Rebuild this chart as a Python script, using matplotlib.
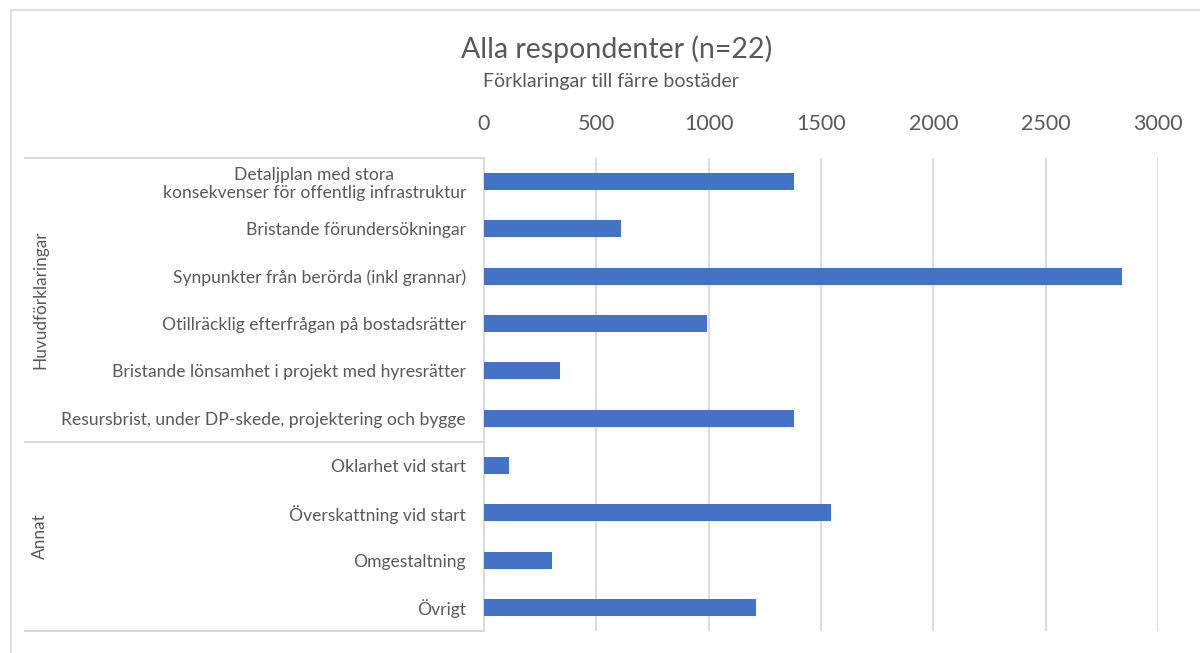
import matplotlib
matplotlib.use("Agg")
import numpy as np
import matplotlib.pyplot as plt
from matplotlib.patches import Rectangle
from matplotlib.transforms import blended_transform_factory

# ---- data ----
categories = [
    "Detaljplan med stora\nkonsekvenser för offentlig infrastruktur",
    "Bristande förundersökningar",
    "Synpunkter från berörda (inkl grannar)",
    "Otillräcklig efterfrågan på bostadsrätter",
    "Bristande lönsamhet i projekt med hyresrätter",
    "Resursbrist, under DP-skede, projektering och bygge",
    "Oklarhet vid start",
    "Överskattning vid start",
    "Omgestaltning",
    "Övrigt",
]
values = [1380, 608, 2840, 994, 338, 1380, 113, 1546, 304, 1212]
groups = ["Huvudförklaringar", "Annat"]
group_sizes = [6, 4]
xticks = [0, 500, 1000, 1500, 2000, 2500, 3000]
title = "Alla respondenter (n=22)"
subtitle = "Förklaringar till färre bostäder"

# ---- style ----
FONT = ["Lato", "DejaVu Sans"]
plt.rcParams["font.family"] = FONT
TXT = "#595959"
GRID = "#D9D9D9"
BAR = "#4472C4"

W, H = 1200, 653
fig = plt.figure(figsize=(W / 100, H / 100), dpi=100)
fig.patch.set_facecolor("white")

# chart border (extends beyond the visible image on right/bottom)
fig.add_artist(Rectangle((11 / W, -0.2), 1.5, 1 - 10 / H + 0.2,
                         transform=fig.transFigure, fill=False,
                         edgecolor=GRID, lw=1.2))

ax = fig.add_axes([484 / W, 1 - 631 / H, (1158 - 484) / W, (631 - 158) / H])
y = np.arange(len(categories))
ax.barh(y, values, height=0.36, color=BAR, zorder=3)
ax.set_xlim(xticks[0], xticks[-1])
ax.set_ylim(len(categories) - 0.5, -0.5)

ax.xaxis.tick_top()
ax.set_xticks(xticks)
ax.set_xticklabels([str(t) for t in xticks])
ax.tick_params(axis="x", length=0, pad=17, labelsize=15.5, labelcolor=TXT)
ax.grid(axis="x", color=GRID, lw=1.3, zorder=0)

ax.set_yticks(y)
ax.set_yticklabels(categories)
ax.tick_params(axis="y", length=0, pad=13, labelsize=12.6, labelcolor=TXT)
for lab in ax.get_yticklabels():
    lab.set_multialignment("center")
    lab.set_linespacing(1.15)

for s in ["top", "right", "bottom"]:
    ax.spines[s].set_visible(False)
ax.spines["left"].set_color(GRID)
ax.spines["left"].set_linewidth(1.3)

# group separators and labels
tr = blended_transform_factory(fig.transFigure, ax.transData)
bounds = np.concatenate([[0], np.cumsum(group_sizes)]) - 0.5
for b in bounds:
    ax.plot([25 / W, 484 / W], [b, b], transform=tr, color=GRID, lw=1.5,
            clip_on=False, zorder=1)
for g, lo, hi in zip(groups, bounds[:-1], bounds[1:]):
    ax.text(40 / W, (lo + hi) / 2, g, transform=tr, rotation=90,
            ha="center", va="center", fontsize=12.4, color=TXT)

fig.text(617 / W, 1 - 49 / H, title, ha="center", va="center",
         fontsize=20.5, color=TXT)
fig.text(611 / W, 1 - 81 / H, subtitle, ha="center", va="center",
         fontsize=14, color=TXT)

fig.savefig("out.png", dpi=100)
